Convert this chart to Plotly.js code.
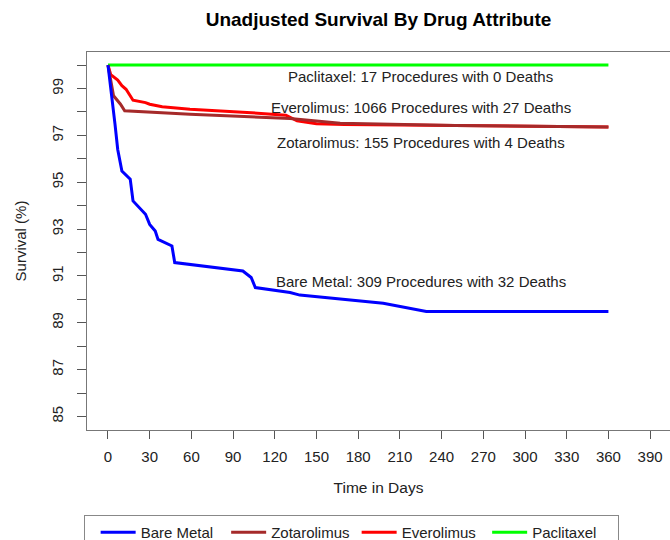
<!DOCTYPE html>
<html>
<head>
<meta charset="utf-8">
<script src="https://cdn.plot.ly/plotly-3.0.1.min.js"></script>
<style>html,body{margin:0;padding:0;background:#fff;overflow:hidden}</style>
</head>
<body>
<div id="chart" style="width:670px;height:570px"></div>
<script>
// Series names and colours
const seriesNames = ["Bare Metal", "Zotarolimus", "Everolimus", "Paclitaxel"];
const seriesColors = ["#0000FF", "#A52A2A", "#FF0000", "#00FF00"];

// Survival curves (days, survival %)
const bareDays = [0, 3, 5, 7, 10, 16, 18, 27, 30, 34, 36, 46, 48, 97, 103, 106, 131, 138, 198, 229, 360];
const bareSurv = [100, 98.6, 97.5, 96.4, 95.48, 95.13, 94.2, 93.63, 93.2, 92.92, 92.56, 92.28, 91.57, 91.21, 90.93, 90.5, 90.29, 90.18, 89.83, 89.48, 89.48];

const zotDays = [0, 4, 9, 12, 59, 131, 167, 250, 360];
const zotSurv = [100, 98.69, 98.33, 98.05, 97.9, 97.72, 97.52, 97.42, 97.36];

const evDays = [0, 2, 7, 10, 13, 18, 27, 30, 39, 59, 100, 128, 136, 150, 170, 280, 360];
const evSurv = [100, 99.59, 99.36, 99.12, 98.97, 98.5, 98.4, 98.33, 98.22, 98.12, 97.98, 97.86, 97.62, 97.5, 97.46, 97.42, 97.36];

const pacDays = [0, 360];
const pacSurv = [100, 100];

// Annotation texts and anchor values
const noteTexts = [
  "Paclitaxel: 17 Procedures with 0 Deaths",
  "Everolimus: 1066 Procedures with 27 Deaths",
  "Zotarolimus: 155 Procedures with 4 Deaths",
  "Bare Metal: 309 Procedures with 32 Deaths"
];
const noteX = [225, 225, 225, 225];
const noteY = [99.53, 98.2, 96.71, 90.77];

// Axis ticks
const xTickVals = [0, 30, 60, 90, 120, 150, 180, 210, 240, 270, 300, 330, 360, 390];
const xTickText = ["0", "30", "60", "90", "120", "150", "180", "210", "240", "270", "300", "330", "360", "390"];
const yTickVals = [85, 86, 87, 88, 89, 90, 91, 92, 93, 94, 95, 96, 97, 98, 99, 100];
const yTickText = ["85", "", "87", "", "89", "", "91", "", "93", "", "95", "", "97", "", "99", ""];

const FONT = "Liberation Sans, Arial, sans-serif";
const allDays = [bareDays, zotDays, evDays, pacDays];
const allSurv = [bareSurv, zotSurv, evSurv, pacSurv];

// draw order: Paclitaxel, Everolimus, Zotarolimus, Bare Metal (blue on top)
const drawOrder = [3, 2, 1, 0];
const traces = drawOrder.map(i => ({
  type: "scatter",
  mode: "lines",
  x: allDays[i],
  y: allSurv[i],
  name: seriesNames[i],
  legendrank: i + 1,
  line: {color: seriesColors[i], width: 3},
  hoverinfo: "skip"
}));

const annotations = noteTexts.map((t, i) => ({
  x: noteX[i], y: noteY[i], xref: "x", yref: "y",
  text: t, showarrow: false, xanchor: "center", yanchor: "middle",
  font: {family: FONT, size: 15, color: "#222"}
}));

const H = 570;
const layout = {
  width: 670, height: H,
  margin: {l: 87, r: 0, t: 52, b: H - 430, pad: 0},
  paper_bgcolor: "#fff", plot_bgcolor: "#fff",
  title: {
    text: "<b>Unadjusted Survival By Drug Attribute</b>",
    x: 0.5, xref: "paper", xanchor: "center",
    y: 1 - 19 / H, yref: "container", yanchor: "middle",
    font: {family: FONT, size: 19, color: "#000"}
  },
  xaxis: {
    range: [-15.1, 404.3],
    tickvals: xTickVals, ticktext: xTickText,
    ticks: "outside", ticklen: 8, tickwidth: 1, tickcolor: "#555",
    showgrid: false, zeroline: false,
    showline: true, linecolor: "#777", linewidth: 1, mirror: true,
    ticklabelstandoff: 5,
    tickfont: {family: FONT, size: 15, color: "#222"},
    title: {text: "Time in Days", standoff: 18, font: {family: FONT, size: 15.5, color: "#222"}}
  },
  yaxis: {
    range: [84.42, 100.56],
    tickvals: yTickVals, ticktext: yTickText,
    tickangle: -90,
    ticks: "outside", ticklen: 9, tickwidth: 1, tickcolor: "#555",
    showgrid: false, zeroline: false,
    showline: true, linecolor: "#777", linewidth: 1, mirror: false,
    ticklabelstandoff: 8,
    tickfont: {family: FONT, size: 15, color: "#222"},
    title: {text: "Survival (%)", standoff: 18, font: {family: FONT, size: 15, color: "#222"}}
  },
  showlegend: true,
  legend: {
    orientation: "h",
    x: -0.005, xanchor: "left", xref: "paper",
    y: -85 / 378, yanchor: "top", yref: "paper",
    title: {text: "&nbsp;", side: "left", font: {family: FONT, size: 2}},
    itemwidth: 35,
    entrywidth: 80.5, entrywidthmode: "pixels",
    bordercolor: "#888", borderwidth: 1, bgcolor: "#fff",
    font: {family: FONT, size: 15, color: "#222"},
    traceorder: "normal"
  },
  annotations: annotations
};

Plotly.newPlot("chart", traces, layout, {staticPlot: true, displayModeBar: false});
</script>
</body>
</html>
